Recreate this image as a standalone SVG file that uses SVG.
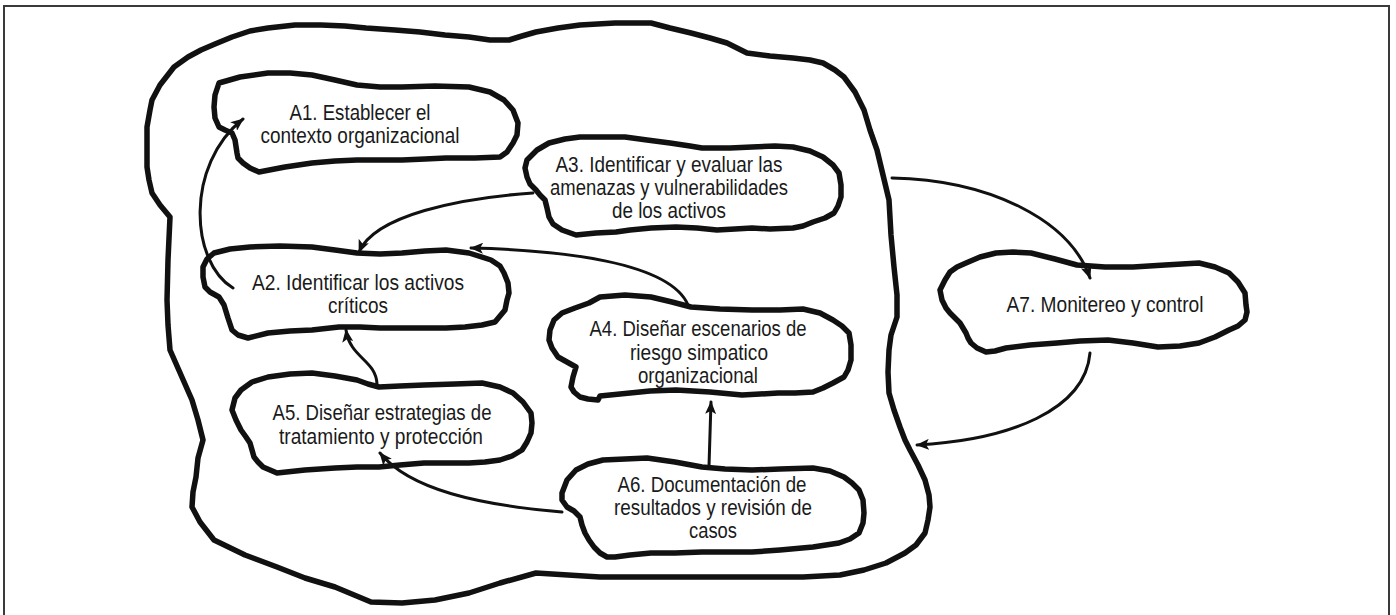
<svg xmlns="http://www.w3.org/2000/svg" width="1396" height="615" viewBox="0 0 1396 615">
<style>
.frame{fill:none;stroke:#3a3a3a;stroke-width:2}
.cloud{fill:none;stroke:#111;stroke-width:5.5;stroke-linejoin:round;stroke-linecap:round}
.conn{fill:none;stroke:#111;stroke-width:3;stroke-linecap:round}
.lbl{font-family:"Liberation Sans",Arial,sans-serif;font-size:22px;fill:#1a1a1a;text-anchor:middle}
</style>
<defs>
<marker id="ah" markerUnits="userSpaceOnUse" markerWidth="14" markerHeight="11" refX="12" refY="5.5" orient="auto">
<path d="M0,0 L13,5.5 L0,11 L3,5.5 z" fill="#111"/>
</marker>
</defs>
<rect width="1396" height="615" fill="#fff"/>
<path class="frame" d="M4,620 V6 H1389 V620"/>
<g id="outer">
<polygon class="cloud" points="147,127 150,110 152,100 160,85 174,67 188,57 201,50 215,44 232,37 250,31 268,28 295,25 321,25 345,26 366,28 395,30 420,32 445,35 469,37 490,40 509,40 522,36 536,32 558,28 580,25 615,23 651,23 670,28 691,33 710,38 727,43 747,53 770,56 793,58 810,60 823,63 835,70 844,77 855,92 864,110 870,130 877,150 883,175 889,200 891,235 894,267 897,295 897,317 891,335 889,350 888,372 889,393 894,410 900,427 905,440 910,450 918,465 925,480 929,495 930,507 928,520 925,533 916,545 905,553 886,563 864,570 840,575 803,577 700,577 600,577 536,573 500,583 469,593 435,600 402,603 371,602 335,587 305,578 277,567 245,555 214,540 200,522 192,507 193,492 196,477 198,458 203,440 198,420 192,400 181,375 170,350 168,325 167,300 168,260 170,217 160,205 152,193 149,180 147,167 147,145"/>
</g>
<g id="A1">
<polygon class="cloud" points="219,83 240,77 268,73 290,73 312,75 335,80 357,85 380,87 402,87 435,86 469,87 490,92 504,100 513,110 518,123 517,135 513,143 507,152 500,157 475,158 446,158 425,159 402,160 380,160 357,160 335,161 312,163 285,167 259,172 250,168 243,163 238,158 237,153 235,140 232,133 225,130 219,127 215,118 214,107 215,95"/>
<text class="lbl" x="360" y="120" textLength="141" lengthAdjust="spacingAndGlyphs">A1. Establecer el</text>
<text class="lbl" x="360" y="143" textLength="199" lengthAdjust="spacingAndGlyphs">contexto organizacional</text>
</g>
<g id="A2">
<polygon class="cloud" points="214,253 230,249 250,247 280,246 312,247 335,250 357,253 380,254 402,253 425,251 446,250 469,253 491,260 500,266 504,273 508,283 509,293 507,300 505,310 500,316 495,322 482,325 465,327 446,328 425,328 402,328 380,328 360,327 339,327 312,330 290,331 268,333 248,338 238,335 232,330 228,318 224,305 219,297 210,292 205,287 203,277 203,267 207,259"/>
<text class="lbl" x="358" y="290" textLength="212" lengthAdjust="spacingAndGlyphs">A2. Identificar los activos</text>
<text class="lbl" x="358" y="313" textLength="60" lengthAdjust="spacingAndGlyphs">críticos</text>
</g>
<g id="A3">
<polygon class="cloud" points="527,160 537,150 549,143 565,139 580,137 600,137 625,137 647,140 670,143 690,146 702,148 730,148 752,147 775,146 793,147 810,151 823,157 833,165 839,173 841,185 841,197 838,206 834,213 825,218 813,222 803,226 793,228 770,229 752,228 735,229 717,230 697,228 676,227 651,228 630,230 616,232 596,233 576,235 562,230 553,224 549,217 547,208 545,200 540,195 536,190 530,184 527,177 525,168"/>
<text class="lbl" x="669" y="172" textLength="227" lengthAdjust="spacingAndGlyphs">A3. Identificar y evaluar las</text>
<text class="lbl" x="669" y="195" textLength="238" lengthAdjust="spacingAndGlyphs">amenazas y vulnerabilidades</text>
<text class="lbl" x="669" y="218" textLength="114" lengthAdjust="spacingAndGlyphs">de los activos</text>
</g>
<g id="A4">
<polygon class="cloud" points="554,320 562,313 575,308 589,303 600,297 625,295 651,297 672,302 691,307 720,309 752,310 780,310 803,309 820,313 833,320 842,326 849,333 851,345 851,360 848,370 844,377 833,383 823,388 813,392 795,393 778,393 760,394 742,395 710,392 676,390 650,391 630,393 600,396 598,400 588,399 580,397 574,392 571,387 573,377 576,367 567,362 558,357 552,348 549,340 550,330"/>
<text class="lbl" x="698" y="336" textLength="217" lengthAdjust="spacingAndGlyphs">A4. Diseñar escenarios de</text>
<text class="lbl" x="699" y="360" textLength="138" lengthAdjust="spacingAndGlyphs">riesgo simpatico</text>
<text class="lbl" x="698" y="383" textLength="120" lengthAdjust="spacingAndGlyphs">organizacional</text>
</g>
<g id="A5">
<polygon class="cloud" points="241,390 252,382 268,377 290,374 312,373 335,376 357,380 368,384 379,387 400,386 424,385 455,384 482,383 500,387 513,393 523,402 531,413 532,423 531,433 527,442 522,450 512,456 500,460 485,462 469,463 445,463 424,463 400,465 379,467 357,467 335,468 305,470 277,473 270,470 263,467 258,462 254,457 252,450 250,443 246,437 241,430 236,420 232,410 235,398"/>
<text class="lbl" x="382" y="420" textLength="219" lengthAdjust="spacingAndGlyphs">A5. Diseñar estrategias de</text>
<text class="lbl" x="381" y="444" textLength="204" lengthAdjust="spacingAndGlyphs">tratamiento y protección</text>
</g>
<g id="A6">
<polygon class="cloud" points="562,493 567,480 576,470 588,464 603,460 625,459 647,458 675,462 702,467 725,469 752,470 780,469 813,468 830,471 844,477 852,483 859,490 863,500 864,513 863,523 859,533 850,539 839,543 826,545 813,547 780,550 752,552 725,552 702,552 675,553 651,553 630,555 615,557 607,557 600,553 594,547 589,540 585,533 582,525 580,517 574,511 567,507 562,500"/>
<text class="lbl" x="712" y="492" textLength="189" lengthAdjust="spacingAndGlyphs">A6. Documentación de</text>
<text class="lbl" x="713" y="515" textLength="198" lengthAdjust="spacingAndGlyphs">resultados y revisión de</text>
<text class="lbl" x="713" y="538" textLength="48" lengthAdjust="spacingAndGlyphs">casos</text>
</g>
<g id="A7">
<polygon class="cloud" points="940,290 945,280 950,272 957,267 966,263 980,257 996,253 1013,252 1031,253 1055,259 1077,265 1105,267 1133,267 1165,265 1199,263 1215,267 1229,273 1238,282 1245,293 1246,305 1247,312 1245,320 1238,326 1229,330 1215,337 1199,343 1180,346 1158,347 1133,343 1108,340 1080,341 1057,343 1030,345 1006,348 995,351 986,352 977,348 971,343 968,338 966,333 960,323 950,313 946,308 942,300"/>
<text class="lbl" x="1105" y="312" textLength="197" lengthAdjust="spacingAndGlyphs">A7. Monitereo y control</text>
</g>
<g id="connectors">
<path class="conn" marker-end="url(#ah)" d="M233,288 C190,262 185,165 243,119"/>
<path class="conn" marker-end="url(#ah)" d="M533,193 C460,198 375,215 359,252"/>
<path class="conn" marker-end="url(#ah)" d="M688,305 C670,262 560,250 471,248"/>
<path class="conn" marker-end="url(#ah)" d="M377,384 C376,360 350,358 346,330"/>
<path class="conn" marker-end="url(#ah)" d="M562,512 C480,505 410,490 380,453"/>
<path class="conn" marker-end="url(#ah)" d="M709,466 L711,402"/>
<path class="conn" marker-end="url(#ah)" d="M892,178 C990,180 1070,220 1090,278"/>
<path class="conn" marker-end="url(#ah)" d="M1090,353 C1085,410 1010,440 917,445"/>
</g>
</svg>
